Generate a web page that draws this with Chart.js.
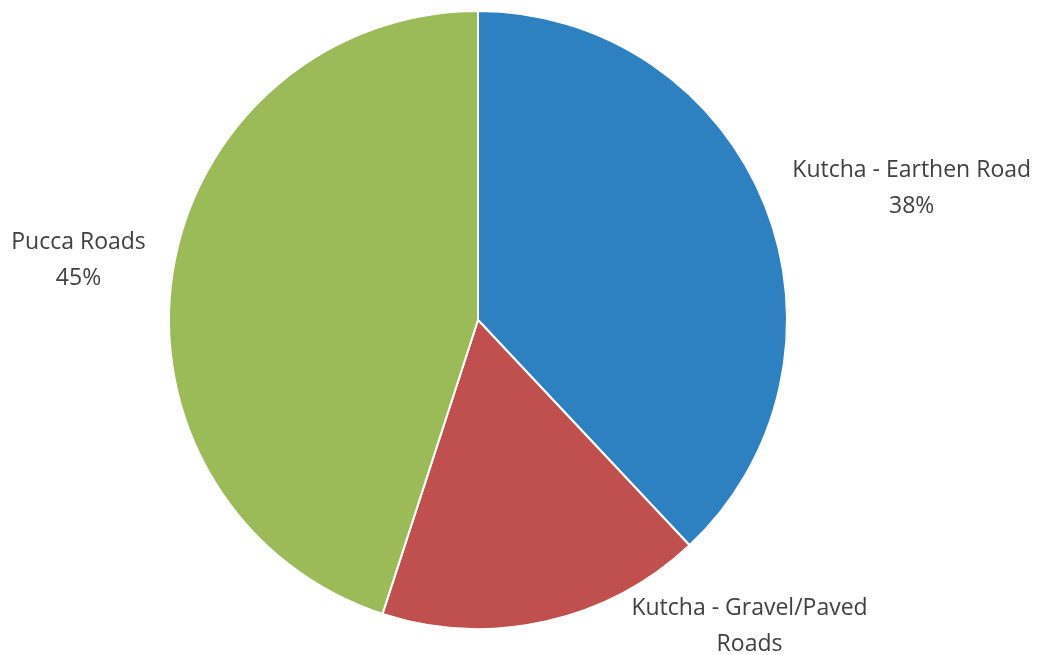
<!DOCTYPE html>
<html>
<head>
<meta charset="utf-8">
<script src="https://cdn.jsdelivr.net/npm/chart.js@4"></script>
<style>
  html, body { margin: 0; padding: 0; background: #fff; }
  #wrap { width: 1041px; height: 655px; }
</style>
</head>
<body>
<div id="wrap"><canvas id="roadPie"></canvas></div>
<script>
const ctx = 'roadPie';

var roadTypes = ["Kutcha - Earthen Road", "Kutcha - Gravel/Paved Roads", "Pucca Roads"];
var roadShare = [38, 17, 45];
var sliceColors = ["#2E81C0", "#C0504D", "#9BBB59"];

// label lines as drawn in the original (gravel label shows no percent)
var labelLines = [
    ["Kutcha - Earthen Road", "38%"],
    ["Kutcha - Gravel/Paved", "Roads"],
    ["Pucca Roads", "45%"]
];
var labelNudge = [[27, -18], [86, 5], [-27, -11]];

const outsideLabels = {
    id: 'outsideLabels',
    afterDatasetsDraw(chart) {
        const c = chart.ctx;
        const arcs = chart.getDatasetMeta(0).data;
        c.save();
        c.font = '23px "Open Sans", sans-serif';
        c.fillStyle = '#404040';
        c.textAlign = 'center';
        c.textBaseline = 'middle';
        arcs.forEach(function (arc, i) {
            const mid = (arc.startAngle + arc.endAngle) / 2;
            const ex = arc.x + Math.cos(mid) * arc.outerRadius;
            const ey = arc.y + Math.sin(mid) * arc.outerRadius;
            const lines = labelLines[i];
            let w = 0;
            lines.forEach(function (t) { w = Math.max(w, c.measureText(t).width); });
            const dx = labelNudge[i][0];
            const cx = dx >= 0 ? ex + dx + w / 2 : ex + dx - w / 2;
            const cy = ey + labelNudge[i][1];
            const lh = 36;
            lines.forEach(function (t, k) {
                c.fillText(t, cx, cy + (k - (lines.length - 1) / 2) * lh);
            });
        });
        c.restore();
    }
};

const roadPie = new Chart(ctx, {
    type: 'pie',
    data: {
        labels: roadTypes,
        datasets: [{
            data: roadShare,
            backgroundColor: sliceColors,
            borderColor: '#ffffff',
            borderWidth: 2
        }]
    },
    options: {
        responsive: true,
        maintainAspectRatio: false,
        animation: false,
        layout: {
            padding: { top: 10, bottom: 25, left: 167, right: 252 }
        },
        plugins: {
            legend: { display: false },
            tooltip: { enabled: false }
        }
    },
    plugins: [outsideLabels]
});
</script>
</body>
</html>
